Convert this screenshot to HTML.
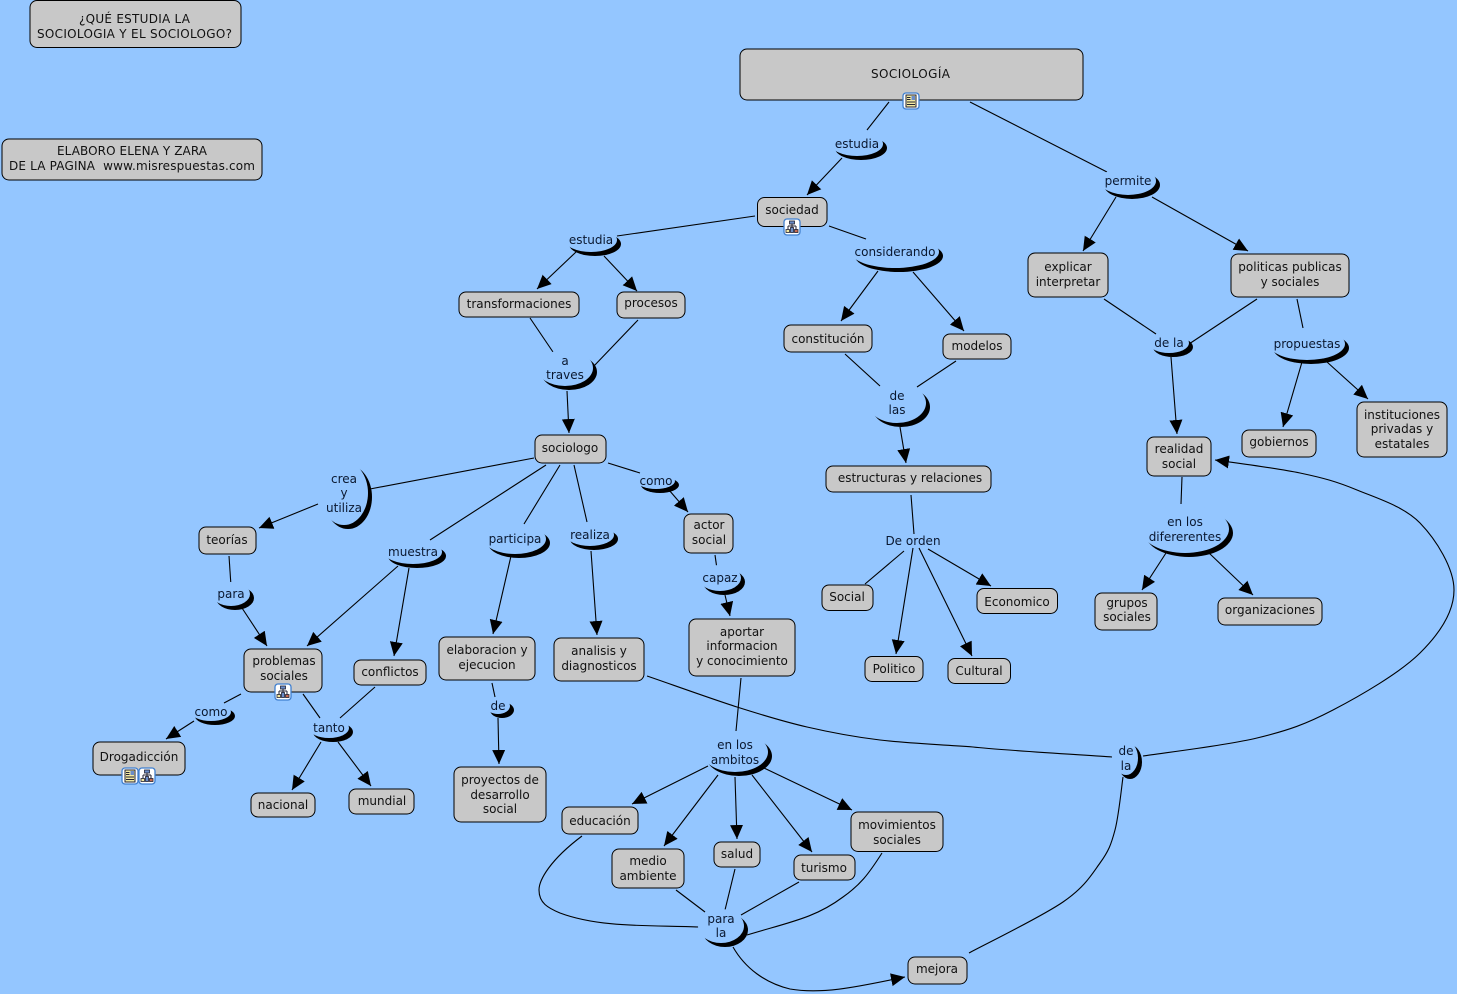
<!DOCTYPE html>
<html><head><meta charset="utf-8"><style>
html,body{margin:0;padding:0;background:#94c6ff;width:1457px;height:994px;overflow:hidden}
svg{display:block}
text{font-family:"DejaVu Sans","Liberation Sans",sans-serif;font-size:12px;text-anchor:middle;fill:#111}
.p text,text.p{fill:#0a1830}
.n rect{fill:#c8c8c8;stroke:#000;stroke-width:1}
.l path{fill:none;stroke:#000;stroke-width:1.1}
.a path{fill:none;stroke:#000;stroke-width:1.1;marker-end:url(#m)}
.c{fill:#000}
.b{fill:#94c6ff}
</style></head><body>
<svg width="1457" height="994" viewBox="0 0 1457 994" xmlns="http://www.w3.org/2000/svg">
<defs>
<marker id="m" markerUnits="userSpaceOnUse" markerWidth="16" markerHeight="14" refX="14" refY="6.5" orient="auto"><path d="M0 0L14 6.5L0 13Z" fill="#000"/></marker>
<g id="ic1"><rect x="-8" y="-8" width="16" height="16" rx="3" fill="#fff" stroke="#3f7fd0" stroke-width="1.300"/><rect x="-5" y="-6" width="10" height="12" fill="#f3e9a0" stroke="#223"/><path d="M-4 -3.500h3.500M-4 -1.500h3.500M-4 1h8M-4 3.500h8" stroke="#223" fill="none"/><rect x="0.500" y="-5" width="3.500" height="4" fill="#6a8cc8"/></g>
<g id="ic2"><rect x="-8" y="-8" width="16" height="16" rx="3" fill="#fff" stroke="#3f7fd0" stroke-width="1.300"/><path d="M0 -3V4M-4 -1H4M-4 -1V3M4 -1V3" stroke="#223" fill="none"/><rect x="-2.500" y="-6" width="5" height="3" fill="#6a8cc8" stroke="#223" stroke-width=".8"/><rect x="-6" y="2.500" width="3.500" height="3" fill="#f3e9a0" stroke="#223" stroke-width=".8"/><rect x="2.500" y="2.500" width="3.500" height="3" fill="#c86a50" stroke="#223" stroke-width=".8"/><rect x="-1.500" y="0.500" width="3" height="5" fill="#6a8cc8" stroke="#223" stroke-width=".8"/></g>
</defs>

<g class="l">
<path d="M889 102L867 130"/><path d="M970 102L1107 172"/><path d="M755 216L617 236"/><path d="M829 226L866 239"/>
<path d="M530 318L553 352"/><path d="M638 320L593 367"/><path d="M845 354L880 386"/><path d="M956 361L917 387"/>
<path d="M911 495L914 534"/><path d="M904 551L865 584"/><path d="M534 458L370 489"/><path d="M546 465L430 540"/>
<path d="M560 465L524 524"/><path d="M574 465L587 522"/><path d="M608 463L640 473"/><path d="M229 556L231 586"/>
<path d="M715 555L717 569"/><path d="M741 678L736 731"/><path d="M492 683L495 697"/><path d="M241 694L224 703"/>
<path d="M303 694L320 718"/><path d="M375 687L340 718"/><path d="M676 890L705 912"/><path d="M735 869L725 910"/>
<path d="M799 882L741 915"/><path d="M582 836C550 860 539 880 539 890C539 903 548 908 560 913C600 928 650 925 699 927"/>
<path d="M882 853C868 875 860 885 843 897C815 918 790 922 747 935"/>
<path d="M969 953C984.700 944.500 1041.200 917 1063 902C1084.800 887 1091.300 875 1100 863C1108.700 851 1111.200 844.300 1115 830C1118.800 815.700 1121.700 785.800 1123 777"/>
<path d="M647 676C662 681 710.300 698.500 737 707C763.700 715.500 783.200 721.500 807 727C830.800 732.500 852.300 736.700 880 740C907.700 743.300 934.300 744.200 973 747C996.200 749.800 1088.800 755.300 1112 757"/>
<path d="M1182 477L1181 504"/><path d="M1104 299L1156 334"/><path d="M1257 299L1189 344"/><path d="M1297 299L1303 328"/>
</g>
<g class="a">
<path d="M842 158L807 195"/><path d="M1116 197L1083 251"/><path d="M1152 197L1248 251"/><path d="M576 252L537 289"/>
<path d="M604 256L637 291"/><path d="M878 271L841 321"/><path d="M913 272L964 331"/><path d="M567 391L569 433"/>
<path d="M900 427L906 463"/><path d="M913 548L896 654"/><path d="M919 548L972 656"/><path d="M928 549L991 586"/>
<path d="M318 504L259 528"/><path d="M669 490L688 512"/><path d="M242 608L267 646"/><path d="M398 566L307 646"/>
<path d="M409 568L394 656"/><path d="M511 556L493 634"/><path d="M591 551L597 635"/><path d="M725 595L730 616"/>
<path d="M498 718L499 764"/><path d="M194 721L166 739"/><path d="M321 742L292 790"/><path d="M338 742L371 786"/>
<path d="M708 766L632 804"/><path d="M718 775L664 846"/><path d="M735 777L737 839"/><path d="M752 775L812 852"/>
<path d="M764 768L852 810"/><path d="M733 947C745 968 765 983 790 989C825 995 865 985 905 977"/>
<path d="M1143 756C1162 753 1225.300 745.700 1257 738C1288.700 730.300 1305.800 724.200 1333 710C1360.200 695.800 1399.800 673 1420 653C1440.200 633 1454 611.700 1454 590C1454 568.300 1436.200 539.700 1420 523C1403.800 506.300 1377 498.300 1357 490C1337 481.700 1323.700 478 1300 473C1276.300 468 1229 462 1215 460"/>
<path d="M1171 357L1177 434"/><path d="M1166 553L1142 590"/><path d="M1209 553L1253 595"/><path d="M1302 362L1283 427"/><path d="M1327 362L1368 399"/>
</g>

<g>
<ellipse class="c" cx="861" cy="148" rx="26" ry="12"/><ellipse class="b" cx="857" cy="144" rx="26" ry="12"/>
<ellipse class="c" cx="1132" cy="185" rx="28" ry="14"/><ellipse class="b" cx="1128" cy="181" rx="28" ry="14"/>
<ellipse class="c" cx="595" cy="244" rx="26" ry="12"/><ellipse class="b" cx="591" cy="240" rx="26" ry="12"/>
<ellipse class="c" cx="899" cy="256" rx="44" ry="16"/><ellipse class="b" cx="895" cy="252" rx="44" ry="16"/>
<ellipse class="c" cx="569" cy="372" rx="28" ry="18"/><ellipse class="b" cx="565" cy="368" rx="28" ry="18"/>
<ellipse class="c" cx="901" cy="407" rx="29" ry="20"/><ellipse class="b" cx="897" cy="403" rx="29" ry="20"/>
<ellipse class="c" cx="348" cy="497" rx="24" ry="32"/><ellipse class="b" cx="344" cy="493" rx="24" ry="32"/>
<ellipse class="c" cx="660" cy="485" rx="19" ry="8"/><ellipse class="b" cx="656" cy="481" rx="19" ry="8"/>
<ellipse class="c" cx="417" cy="556" rx="29" ry="12"/><ellipse class="b" cx="413" cy="552" rx="29" ry="12"/>
<ellipse class="c" cx="519" cy="543" rx="31" ry="15"/><ellipse class="b" cx="515" cy="539" rx="31" ry="15"/>
<ellipse class="c" cx="594" cy="539" rx="24" ry="11"/><ellipse class="b" cx="590" cy="535" rx="24" ry="11"/>
<ellipse class="c" cx="724" cy="582" rx="21" ry="13"/><ellipse class="b" cx="720" cy="578" rx="21" ry="13"/>
<ellipse class="c" cx="235" cy="598" rx="19" ry="12"/><ellipse class="b" cx="231" cy="594" rx="19" ry="12"/>
<ellipse class="c" cx="215" cy="716" rx="20" ry="9"/><ellipse class="b" cx="211" cy="712" rx="20" ry="9"/>
<ellipse class="c" cx="333" cy="732" rx="20" ry="10"/><ellipse class="b" cx="329" cy="728" rx="20" ry="10"/>
<ellipse class="c" cx="502" cy="710" rx="12" ry="8"/><ellipse class="b" cx="498" cy="706" rx="12" ry="8"/>
<ellipse class="c" cx="739" cy="756" rx="33" ry="20"/><ellipse class="b" cx="735" cy="752" rx="33" ry="20"/>
<ellipse class="c" cx="1173" cy="347" rx="20" ry="10"/><ellipse class="b" cx="1169" cy="343" rx="20" ry="10"/>
<ellipse class="c" cx="1311" cy="348" rx="38" ry="16"/><ellipse class="b" cx="1307" cy="344" rx="38" ry="16"/>
<ellipse class="c" cx="1189" cy="533" rx="44" ry="24"/><ellipse class="b" cx="1185" cy="529" rx="44" ry="24"/>
<ellipse class="c" cx="1130" cy="762" rx="12" ry="17"/><ellipse class="b" cx="1126" cy="758" rx="12" ry="17"/>
<ellipse class="c" cx="725" cy="930" rx="23" ry="17"/><ellipse class="b" cx="721" cy="926" rx="23" ry="17"/>
</g>

<g class="n">
<rect x="30" y="0.500" width="211" height="47" rx="7"/>
<rect x="2" y="139" width="260" height="41" rx="7"/>
<rect x="740" y="49" width="343" height="51" rx="7"/>
<rect x="757.500" y="197.500" width="69.500" height="29" rx="7"/>
<rect x="459" y="292" width="120" height="25" rx="7"/>
<rect x="617" y="292" width="68" height="26" rx="7"/>
<rect x="784" y="325" width="88" height="27" rx="7"/>
<rect x="943" y="334" width="68" height="25" rx="7"/>
<rect x="826" y="466" width="165" height="26" rx="7"/>
<rect x="535" y="435" width="71" height="28" rx="7"/>
<rect x="684" y="514" width="49" height="39" rx="7"/>
<rect x="199" y="527" width="57" height="27" rx="7"/>
<rect x="244" y="649" width="78" height="43" rx="7"/>
<rect x="354" y="660" width="72" height="25" rx="7"/>
<rect x="439" y="637" width="96" height="43" rx="7"/>
<rect x="554" y="638" width="90" height="43" rx="7"/>
<rect x="689" y="619" width="106" height="57" rx="7"/>
<rect x="93" y="742" width="92" height="33" rx="7"/>
<rect x="251" y="793" width="64" height="24" rx="7"/>
<rect x="349" y="789" width="65" height="25" rx="7"/>
<rect x="454" y="767" width="92" height="55" rx="7"/>
<rect x="562" y="807" width="76" height="27" rx="7"/>
<rect x="612" y="849" width="72" height="39" rx="7"/>
<rect x="714" y="842" width="46" height="25" rx="7"/>
<rect x="794" y="855" width="61" height="25" rx="7"/>
<rect x="851" y="812" width="92" height="39.500" rx="7"/>
<rect x="908" y="957" width="59" height="27" rx="7"/>
<rect x="822" y="585" width="51" height="25.500" rx="7"/>
<rect x="865" y="656.500" width="58" height="25" rx="7"/>
<rect x="948" y="658.500" width="62.500" height="25" rx="7"/>
<rect x="977" y="588.500" width="80.500" height="25" rx="7"/>
<rect x="1028" y="253" width="80" height="44" rx="7"/>
<rect x="1231" y="254" width="118" height="43" rx="7"/>
<rect x="1147" y="437" width="64" height="39" rx="7"/>
<rect x="1242" y="430" width="74" height="27" rx="7"/>
<rect x="1357" y="402" width="90" height="55" rx="7"/>
<rect x="1095" y="593" width="62" height="37" rx="7"/>
<rect x="1218" y="598" width="104" height="27" rx="7"/>
</g>

<use href="#ic1" x="911" y="101"/><use href="#ic2" x="792" y="227"/><use href="#ic2" x="283" y="692"/><use href="#ic1" x="130" y="776"/><use href="#ic2" x="147" y="776"/>

<g>
<text x="134.500" y="23" textLength="111">¿QUÉ ESTUDIA LA</text><text x="134.500" y="38" textLength="195">SOCIOLOGIA Y EL SOCIOLOGO?</text>
<text x="132" y="155" textLength="150">ELABORO ELENA Y ZARA</text><text x="132" y="170" textLength="246" xml:space="preserve">DE LA PAGINA  www.misrespuestas.com</text>
<text x="910.500" y="78" textLength="79">SOCIOLOGÍA</text>
<text x="792" y="214">sociedad</text>
<text x="519" y="308">transformaciones</text>
<text x="651" y="307">procesos</text>
<text x="828" y="343">constitución</text>
<text x="977" y="350">modelos</text>
<text x="910" y="482">estructuras y relaciones</text>
<text x="570" y="452">sociologo</text>
<text x="709" y="529">actor</text><text x="709" y="544">social</text>
<text x="227" y="544">teorías</text>
<text x="284" y="665">problemas</text><text x="284" y="680">sociales</text>
<text x="390" y="676">conflictos</text>
<text x="487" y="654">elaboracion y</text><text x="487" y="669">ejecucion</text>
<text x="599" y="655">analisis y</text><text x="599" y="670">diagnosticos</text>
<text x="742" y="636">aportar</text><text x="742" y="650">informacion</text><text x="742" y="665">y conocimiento</text>
<text x="139" y="761">Drogadicción</text>
<text x="283" y="809">nacional</text>
<text x="382" y="805">mundial</text>
<text x="500" y="784">proyectos de</text><text x="500" y="799">desarrollo</text><text x="500" y="813">social</text>
<text x="600" y="825">educación</text>
<text x="648" y="865">medio</text><text x="648" y="880">ambiente</text>
<text x="737" y="858">salud</text>
<text x="824" y="872">turismo</text>
<text x="897" y="829">movimientos</text><text x="897" y="844">sociales</text>
<text x="937" y="973">mejora</text>
<text x="847" y="601">Social</text>
<text x="894" y="673">Politico</text>
<text x="979" y="675">Cultural</text>
<text x="1017" y="606">Economico</text>
<text x="1068" y="271">explicar</text><text x="1068" y="286">interpretar</text>
<text x="1290" y="271">politicas publicas</text><text x="1290" y="286">y sociales</text>
<text x="1179" y="453">realidad</text><text x="1179" y="468">social</text>
<text x="1279" y="446">gobiernos</text>
<text x="1402" y="419">instituciones</text><text x="1402" y="433">privadas y</text><text x="1402" y="448">estatales</text>
<text x="1127" y="607">grupos</text><text x="1127" y="621">sociales</text>
<text x="1270" y="614">organizaciones</text>
</g>
<g class="p">
<text x="857" y="148">estudia</text>
<text x="1128" y="185">permite</text>
<text x="591" y="244">estudia</text>
<text x="895" y="256">considerando</text>
<text x="565" y="365">a</text><text x="565" y="379">traves</text>
<text x="897" y="400">de</text><text x="897" y="414">las</text>
<text x="344" y="483">crea</text><text x="344" y="497">y</text><text x="344" y="512">utiliza</text>
<text x="656" y="485">como</text>
<text x="413" y="556">muestra</text>
<text x="515" y="543">participa</text>
<text x="590" y="539">realiza</text>
<text x="720" y="582">capaz</text>
<text x="231" y="598">para</text>
<text x="211" y="716">como</text>
<text x="329" y="732">tanto</text>
<text x="498" y="710">de</text>
<text x="735" y="749">en los</text><text x="735" y="764">ambitos</text>
<text x="913" y="545">De orden</text>
<text x="1169" y="347">de la</text>
<text x="1307" y="348">propuestas</text>
<text x="1185" y="526">en los</text><text x="1185" y="541">difererentes</text>
<text x="1126" y="755">de</text><text x="1126" y="770">la</text>
<text x="721" y="923">para</text><text x="721" y="937">la</text>
</g>
</svg>
</body></html>
